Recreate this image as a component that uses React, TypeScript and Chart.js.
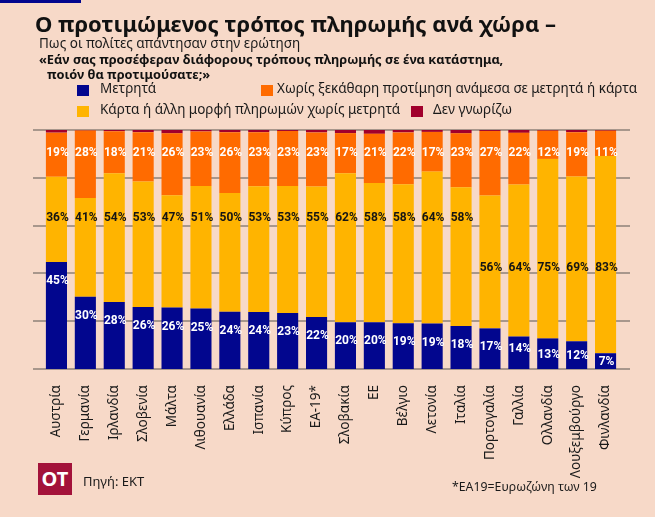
import React, { useEffect, useRef } from "react";
import { Chart, registerables } from "chart.js";

Chart.register(...registerables);

const categories = [
  "Αυστρία", "Γερμανία", "Ιρλανδία", "Σλοβενία", "Μάλτα", "Λιθουανία", "Ελλάδα",
  "Ισπανία", "Κύπρος", "ΕΑ-19*", "Σλοβακία", "ΕΕ", "Βέλγιο", "Λετονία", "Ιταλία",
  "Πορτογαλία", "Γαλλία", "Ολλανδία", "Λουξεμβούργο", "Φινλανδία",
];
const cash = [44.8, 30.2, 28.0, 25.9, 25.7, 25.3, 24.0, 23.9, 23.4, 21.8, 19.6, 19.6, 19.1, 19.0, 18.0, 17.0, 13.6, 12.8, 11.6, 6.6];
const card = [35.6, 41.4, 53.9, 52.6, 47.0, 51.3, 49.6, 52.6, 53.2, 54.6, 62.3, 58.2, 58.2, 63.6, 58.0, 55.6, 63.6, 75.1, 68.9, 82.5];
const noPref = [18.5, 28.2, 17.6, 20.6, 25.9, 22.8, 25.5, 22.6, 23.0, 22.6, 16.8, 20.6, 21.7, 16.6, 22.6, 27.0, 21.6, 11.8, 18.6, 10.6];
const dontKnow = [1.1, 0.2, 0.5, 0.9, 1.4, 0.6, 0.9, 0.9, 0.4, 1.0, 1.3, 1.6, 1.0, 0.8, 1.4, 0.4, 1.2, 0.3, 0.9, 0.3];
const gridValues = [0, 20, 40, 60, 80, 100];

const seriesNames = [
  "Μετρητά",
  "Κάρτα ή άλλη μορφή πληρωμών χωρίς μετρητά",
  "Χωρίς ξεκάθαρη προτίμηση ανάμεσα σε μετρητά ή κάρτα",
  "Δεν γνωρίζω",
];

const BLUE = "#02068E";
const YELLOW = "#FFB400";
const ORANGE = "#FF6B00";
const RED = "#A1002C";
const BG = "#F7D9C8";
const GRID = "#8E8178";
const FONT = "'Noto Sans', 'Open Sans', sans-serif";

const gridPlugin = {
  id: "extGrid",
  beforeDatasetsDraw(chart: any) {
    const { ctx, chartArea, scales } = chart;
    const y = scales.y;
    ctx.save();
    ctx.strokeStyle = GRID;
    ctx.lineWidth = 1.6;
    for (const v of gridValues) {
      const py = Math.round(y.getPixelForValue(v));
      ctx.beginPath();
      ctx.moveTo(chartArea.left - 9, py);
      ctx.lineTo(chartArea.right + 10, py);
      ctx.stroke();
    }
    ctx.restore();
  },
};

const labelPlugin = {
  id: "segLabels",
  afterDatasetsDraw(chart: any) {
    const { ctx, scales } = chart;
    const y = scales.y;
    const meta0 = chart.getDatasetMeta(0);
    ctx.save();
    ctx.font = "bold 12px Roboto, 'DejaVu Sans', sans-serif";
    ctx.textAlign = "center";
    ctx.textBaseline = "middle";
    categories.forEach((_, i) => {
      const x = meta0.data[i].x + 1;
      const top = y.getPixelForValue(cash[i]);
      const bottom = y.getPixelForValue(0);
      const h = bottom - top;
      const yc = h < 32 ? (top + bottom) / 2 + 1 : Math.min(top + 19, bottom - 20);
      ctx.fillStyle = "#ffffff";
      ctx.fillText(Math.round(cash[i]) + "%", x, yc);
      ctx.fillStyle = "#151515";
      ctx.fillText(Math.round(card[i]) + "%", x, y.getPixelForValue(cash[i] >= 17.5 ? 63.2 : 42.3));
      ctx.fillStyle = "#ffffff";
      ctx.fillText(Math.round(noPref[i]) + "%", x, y.getPixelForValue(90.4));
    });
    ctx.restore();
  },
};

export default function App() {
  const canvasRef = useRef<HTMLCanvasElement | null>(null);

  useEffect(() => {
    if (!canvasRef.current) return;
    const chart = new Chart(canvasRef.current, {
      type: "bar",
      data: {
        labels: categories,
        datasets: [
          { label: seriesNames[0], data: cash, backgroundColor: BLUE },
          { label: seriesNames[1], data: card, backgroundColor: YELLOW },
          { label: seriesNames[2], data: noPref, backgroundColor: ORANGE },
          { label: seriesNames[3], data: dontKnow, backgroundColor: RED },
        ],
      },
      options: {
        animation: false,
        responsive: false,
        layout: { padding: { left: 42, right: 35, top: 130, bottom: 0 } },
        datasets: { bar: { barPercentage: 0.73, categoryPercentage: 1 } },
        plugins: { legend: { display: false }, tooltip: { enabled: false } },
        scales: {
          x: {
            stacked: true,
            grid: { display: false },
            border: { display: false },
            ticks: {
              minRotation: 90,
              maxRotation: 90,
              autoSkip: false,
              padding: 8,
              color: "#1a1a1a",
              font: { family: FONT, size: 13.5 },
            },
            afterFit: (s: any) => {
              s.height = 148;
            },
          },
          y: { stacked: true, min: 0, max: 100, display: false },
        },
      } as any,
      plugins: [gridPlugin, labelPlugin],
    });
    return () => chart.destroy();
  }, []);

  const txt = (extra: React.CSSProperties): React.CSSProperties => ({
    position: "absolute",
    whiteSpace: "nowrap",
    fontFamily: FONT,
    lineHeight: 1,
    color: "#1a1a1a",
    ...extra,
  });
  const sq = (left: number, top: number, color: string): React.CSSProperties => ({
    position: "absolute",
    left,
    top,
    width: 12,
    height: 11,
    background: color,
  });

  return (
    <div style={{ position: "absolute", left: 0, top: 0, width: 655, height: 517, background: BG, overflow: "hidden" }}>
      <div style={{ position: "absolute", left: 0, top: 0, width: 81, height: 3, background: BLUE }} />
      <canvas ref={canvasRef} width={655} height={517} style={{ position: "absolute", left: 0, top: 0 }} />
      <div style={txt({ left: 35, top: 11.5, fontSize: 22, fontWeight: 700, color: "#111" })}>
        Ο προτιμώμενος τρόπος πληρωμής ανά χώρα –
      </div>
      <div style={txt({ left: 39, top: 36.8, fontSize: 13.5 })}>Πως οι πολίτες απάντησαν στην ερώτηση</div>
      <div style={txt({ left: 39, top: 53.4, fontSize: 12.8, fontWeight: 700, color: "#111" })}>
        «Εάν σας προσέφεραν διάφορους τρόπους πληρωμής σε ένα κατάστημα,
      </div>
      <div style={txt({ left: 47, top: 67.9, fontSize: 12.8, fontWeight: 700, color: "#111" })}>
        ποιόν θα προτιμούσατε;»
      </div>
      <div style={sq(77, 85, BLUE)} />
      <div style={txt({ left: 100, top: 82.1, fontSize: 13.5 })}>{seriesNames[0]}</div>
      <div style={sq(261, 85, ORANGE)} />
      <div style={txt({ left: 277, top: 82.1, fontSize: 13.5 })}>{seriesNames[2]}</div>
      <div style={sq(77, 105.5, YELLOW)} />
      <div style={txt({ left: 100, top: 103.1, fontSize: 13.5 })}>{seriesNames[1]}</div>
      <div style={sq(411, 105.5, RED)} />
      <div style={txt({ left: 433, top: 103.1, fontSize: 13.5 })}>{seriesNames[3]}</div>
      <div
        style={{
          position: "absolute",
          left: 38,
          top: 463,
          width: 34,
          height: 32,
          background: "#A3123A",
          color: "#fff",
          fontFamily: FONT,
          fontWeight: 700,
          fontSize: 20,
          lineHeight: "32px",
          textAlign: "center",
        }}
      >
        OT
      </div>
      <div style={txt({ left: 83, top: 475, fontSize: 13 })}>Πηγή: ΕΚΤ</div>
      <div style={txt({ left: 452, top: 480.5, fontSize: 12.3 })}>*ΕΑ19=Ευρωζώνη των 19</div>
    </div>
  );
}
